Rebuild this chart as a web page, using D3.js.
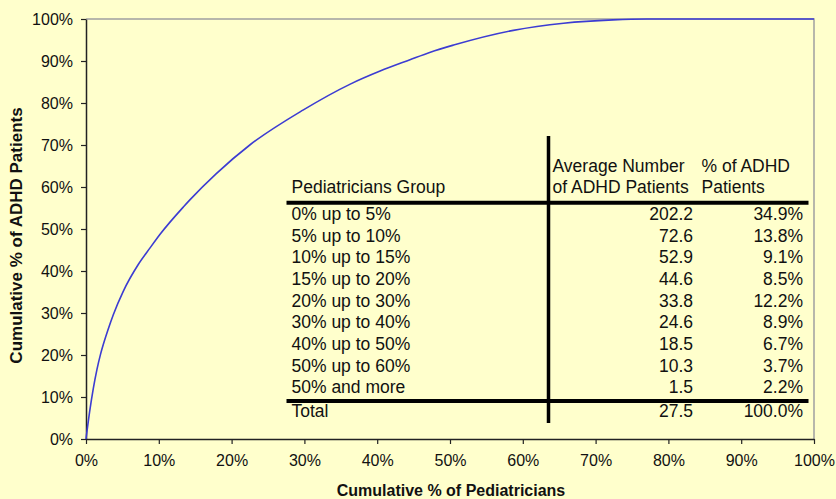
<!DOCTYPE html>
<html>
<head>
<meta charset="utf-8">
<script src="https://cdn.jsdelivr.net/npm/d3@7"></script>
<style>
  body { margin: 0; background: #ffffcc; }
  svg { display: block; font-family: "Liberation Sans", Arial, sans-serif; }
</style>
</head>
<body>
<div id="container"></div>
<script>
// cumulative % of pediatricians vs cumulative % of ADHD patients
const pedPct = [0, 0.5, 1, 1.5, 2, 2.5, 3, 3.75, 5.1, 7.2, 8.8, 10.2, 13.4, 14.3, 17.9, 22.5, 29.8, 36.3, 40.4, 44.5, 47.3, 50.5, 58.7, 65.6, 72.4, 77, 85, 100];
const adhdPct = [0, 6.5, 12, 16.5, 20.2, 23.2, 25.9, 29.6, 35.1, 41.6, 45.5, 48.8, 55.3, 57, 63.2, 70, 78.3, 84.5, 87.6, 90.3, 92.1, 93.8, 97.3, 99, 99.8, 100, 100, 100];

const groups = ['0% up to 5%', '5% up to 10%', '10% up to 15%', '15% up to 20%', '20% up to 30%',
  '30% up to 40%', '40% up to 50%', '50% up to 60%', '50% and more'];
const avgPatients = ['202.2', '72.6', '52.9', '44.6', '33.8', '24.6', '18.5', '10.3', '1.5'];
const shareAdhd = ['34.9%', '13.8%', '9.1%', '8.5%', '12.2%', '8.9%', '6.7%', '3.7%', '2.2%'];
const total = ['Total', '27.5', '100.0%'];

const xTicks = [0, 10, 20, 30, 40, 50, 60, 70, 80, 90, 100];
const yTicks = [0, 10, 20, 30, 40, 50, 60, 70, 80, 90, 100];

const width = 836, height = 499;
const margin = { top: 19, right: 22, bottom: 60, left: 86 };

const svg = d3.select('#container').append('svg')
  .attr('width', width)
  .attr('height', height);

svg.append('rect')
  .attr('width', width)
  .attr('height', height)
  .attr('fill', '#ffffcc');

const x = d3.scaleLinear().domain([0, 100]).range([margin.left, width - margin.right]);
const y = d3.scaleLinear().domain([0, 100]).range([height - margin.bottom, margin.top]);

// top & right frame
svg.append('path')
  .attr('d', `M${x(0)},${y(100)}H${x(100)}V${y(0)}`)
  .attr('fill', 'none')
  .attr('stroke', '#a0a0a0')
  .attr('stroke-width', 1.5);

const xAxis = svg.append('g')
  .attr('transform', `translate(0,${y(0)})`)
  .call(d3.axisBottom(x).tickValues(xTicks).tickFormat(d => d + '%').tickSize(5).tickSizeOuter(0).tickPadding(11));

const yAxis = svg.append('g')
  .attr('transform', `translate(${x(0)},0)`)
  .call(d3.axisLeft(y).tickValues(yTicks).tickFormat(d => d + '%').tickSize(5).tickSizeOuter(0).tickPadding(8));

[xAxis, yAxis].forEach(g => {
  g.select('.domain').attr('stroke', '#222').attr('stroke-width', 1.5);
  g.selectAll('.tick line').attr('stroke', '#222').attr('stroke-width', 1.2);
  g.selectAll('.tick text').attr('font-size', 16).attr('fill', '#111')
    .attr('font-family', '"Liberation Sans", Arial, sans-serif');
});
yAxis.selectAll('.tick text').attr('dy', '0.35em');

// axis titles
svg.append('text')
  .attr('x', 451)
  .attr('y', 496)
  .attr('text-anchor', 'middle')
  .attr('font-size', 16)
  .attr('font-weight', 'bold')
  .attr('fill', '#111')
  .text('Cumulative % of Pediatricians');

svg.append('text')
  .attr('transform', `translate(22,235.5) rotate(-90)`)
  .attr('text-anchor', 'middle')
  .attr('font-size', 17)
  .attr('font-weight', 'bold')
  .attr('fill', '#111')
  .text('Cumulative % of ADHD Patients');

// curve
const line = d3.line()
  .x((d, i) => x(pedPct[i]))
  .y(d => y(d))
  .curve(d3.curveMonotoneX);

svg.append('path')
  .datum(adhdPct)
  .attr('d', line)
  .attr('fill', 'none')
  .attr('stroke', '#3c3cd2')
  .attr('stroke-width', 1.6);

// table
const table = svg.append('g').attr('font-size', 17.5).attr('fill', '#111');
const colLeft = 291.5, colAvg = 693, colPct = 803, colHead2 = 552.5, colHead3 = 701.5;
const rowStart = 220, rowStep = 21.66;

table.append('text').attr('x', colLeft).attr('y', 193.3).text('Pediatricians Group');
table.append('text').attr('x', colHead2).attr('y', 171.7).text('Average Number');
table.append('text').attr('x', colHead2).attr('y', 193.3).text('of ADHD Patients');
table.append('text').attr('x', colHead3).attr('y', 171.7).text('% of ADHD');
table.append('text').attr('x', colHead3).attr('y', 193.3).text('Patients');

groups.forEach((g, i) => {
  const yy = rowStart + i * rowStep;
  table.append('text').attr('x', colLeft).attr('y', yy).text(g);
  table.append('text').attr('x', colAvg).attr('y', yy).attr('text-anchor', 'end').text(avgPatients[i]);
  table.append('text').attr('x', colPct).attr('y', yy).attr('text-anchor', 'end').text(shareAdhd[i]);
});

table.append('text').attr('x', colLeft).attr('y', 416.7).text(total[0]);
table.append('text').attr('x', colAvg).attr('y', 416.7).attr('text-anchor', 'end').text(total[1]);
table.append('text').attr('x', colPct).attr('y', 416.7).attr('text-anchor', 'end').text(total[2]);

[202.7, 401].forEach(yy => {
  table.append('line')
    .attr('x1', 286.5).attr('x2', 808.5)
    .attr('y1', yy).attr('y2', yy)
    .attr('stroke', '#000').attr('stroke-width', 4);
});
table.append('line')
  .attr('x1', 548.5).attr('x2', 548.5)
  .attr('y1', 136).attr('y2', 423)
  .attr('stroke', '#000').attr('stroke-width', 3.5);
</script>
</body>
</html>
